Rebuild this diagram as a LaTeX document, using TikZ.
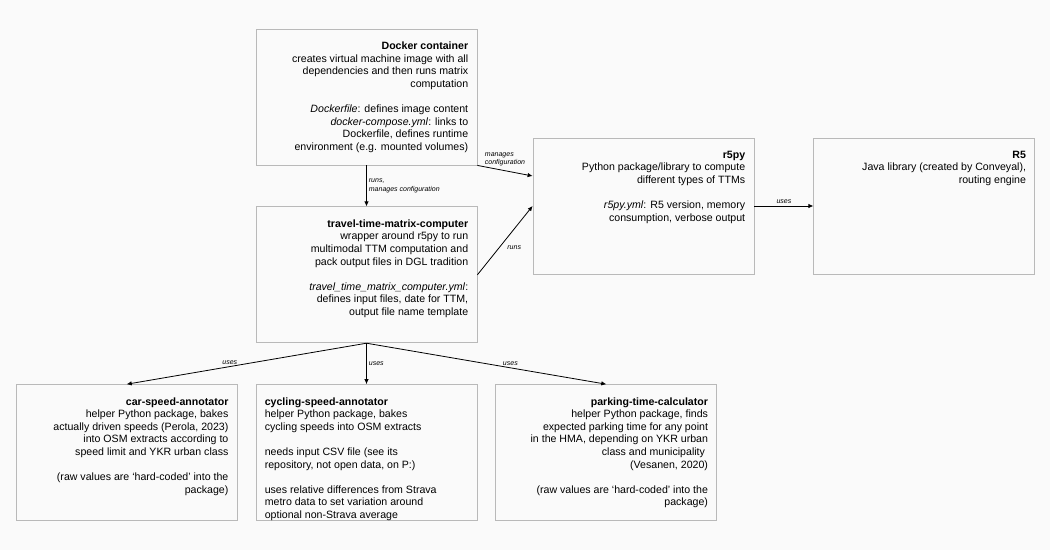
\documentclass[tikz,border=0pt]{standalone}
\usepackage{fontspec}
\setmainfont{Liberation Sans}
\usepackage{tikz}
\usetikzlibrary{arrows.meta,positioning}
\definecolor{dfbg}{RGB}{250,250,250}
\definecolor{dfborder}{RGB}{185,185,185}
\tikzstyle{arrow} = [line width=0.8pt,-{Latex[length=5pt,width=4.5pt]},color=black]
\tikzstyle{compbox} = [rectangle, minimum width=221pt, minimum height=136pt, draw=dfborder, fill=dfbg, line width=0.8pt]
\tikzstyle{boxtext} = [inner sep=0pt, align=right, anchor=north east, font=\fontsize{10.6}{12.6}\selectfont]
\tikzstyle{boxtextleft} = [inner sep=0pt, align=left, anchor=north west, font=\fontsize{10.6}{12.6}\selectfont]
\tikzstyle{edgelabel} = [inner sep=2pt, align=left, font=\fontsize{7}{8.3}\selectfont\itshape]

\begin{document}
\begin{tikzpicture}[x=1pt,y=-1pt]
\fill[dfbg] (0,0) rectangle (1050,550);

% boxes
\node[compbox] (docker) at (366.5,97) {};
\node[compbox, below=41pt of docker] (ttmc) {};
\node[compbox] (r5py) at (643.5,206) {};
\node[compbox, right=59pt of r5py] (r5) {};
\node[compbox, below=41pt of ttmc] (cycling) {};
\node[compbox, left=18pt of cycling] (car) {};
\node[compbox, right=18pt of cycling] (parking) {};

% box texts
\node[boxtext] (dockertext) at ([xshift=-9pt,yshift=-13pt]docker.north east) {\textbf{Docker container}\\
creates virtual machine image with all\\ dependencies and then runs matrix\\ computation\\[12.6pt]
\textit{Dockerfile}: defines image content\\ \textit{docker-compose.yml}: links to\\ Dockerfile, defines runtime\\ environment (e.g. mounted volumes)};
\node[boxtext] (ttmctext) at ([xshift=-9pt,yshift=-13pt]ttmc.north east) {\textbf{travel-time-matrix-computer}\\
wrapper around r5py to run\\ multimodal TTM computation and\\ pack output files in DGL tradition\\[12.6pt]
\textit{travel\_time\_matrix\_computer.yml}:\\ defines input files, date for TTM,\\ output file name template};
\node[boxtext] (r5pytext) at ([xshift=-9pt,yshift=-13pt]r5py.north east) {\textbf{r5py}\\
Python package/library to compute\\ different types of TTMs\\[12.6pt]
\textit{r5py.yml}: R5 version, memory\\ consumption, verbose output};
\node[boxtext] (r5text) at ([xshift=-9pt,yshift=-13pt]r5.north east) {\textbf{R5}\\
Java library (created by Conveyal),\\ routing engine};
\node[boxtext] (cartext) at ([xshift=-9pt,yshift=-13pt]car.north east) {\textbf{car-speed-annotator}\\
helper Python package, bakes\\ actually driven speeds (Perola, 2023)\\ into OSM extracts according to\\ speed limit and YKR urban class\\[12.6pt]
(raw values are ‘hard-coded’ into the\\ package)};
\node[boxtextleft] (cyclingtext) at ([xshift=9pt,yshift=-13pt]cycling.north west) {\textbf{cycling-speed-annotator}\\
helper Python package, bakes\\ cycling speeds into OSM extracts\\[12.6pt]
needs input CSV file (see its\\ repository, not open data, on P:)\\[12.6pt]
uses relative differences from Strava\\ metro data to set variation around\\ optional non-Strava average};
\node[boxtext] (parkingtext) at ([xshift=-9pt,yshift=-13pt]parking.north east) {\textbf{parking-time-calculator}\\
helper Python package, finds\\ expected parking time for any point\\ in the HMA, depending on YKR urban\\ class and municipality\kern3pt\\ (Vesanen, 2020)\\[12.6pt]
(raw values are ‘hard-coded’ into the\\ package)};

% connectors
\draw[arrow] (docker.south) -- node[edgelabel, right] (runsconf) {runs,\\manages configuration} (ttmc.north);
\draw[arrow] (docker.south east) -- node[edgelabel, above, yshift=2pt] (manconf) {manages\\configuration} ([yshift=30pt]r5py.west);
\draw[arrow] (ttmc.east) -- node[edgelabel, anchor=north west, yshift=-3pt] (runs) {runs} (r5py.west);
\draw[arrow] (r5py.east) -- node[edgelabel, above] (usesr5) {uses} (r5.west);
\draw[arrow] (ttmc.south) -- node[edgelabel, above, pos=0.57] (usescar) {uses} (car.north);
\draw[arrow] (ttmc.south) -- node[edgelabel, right] (usescycling) {uses} (cycling.north);
\draw[arrow] (ttmc.south) -- node[edgelabel, above, pos=0.6] (usesparking) {uses} (parking.north);
\end{tikzpicture}
\end{document}
